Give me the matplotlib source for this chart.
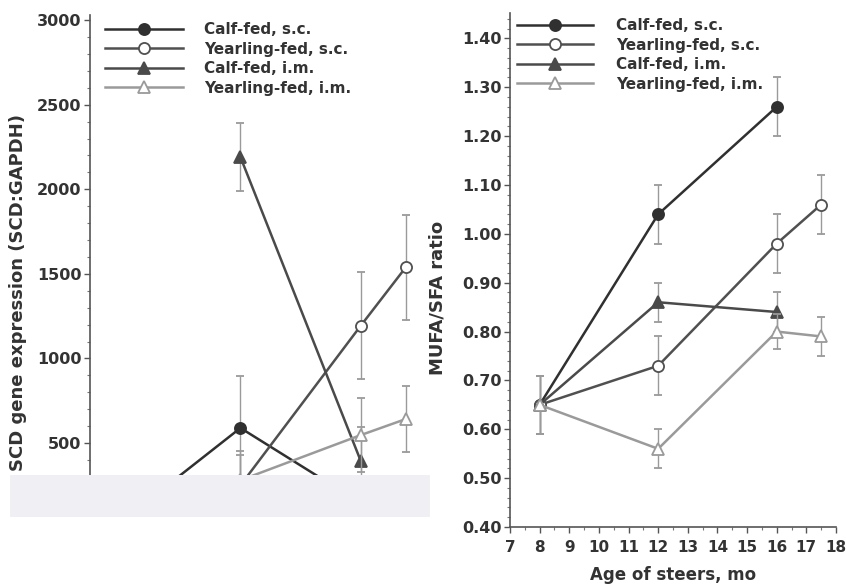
import matplotlib
matplotlib.use("Agg")
import matplotlib.pyplot as plt
from matplotlib.ticker import MultipleLocator
from matplotlib.patches import Rectangle
from matplotlib.lines import Line2D

plt.rcParams['font.family'] = ['DejaVu Sans']
plt.rcParams['font.weight'] = 'bold'
plt.rcParams['axes.labelweight'] = 'bold'

# Datos (edad en meses)
series = ['Calf-fed, s.c.', 'Yearling-fed, s.c.', 'Calf-fed, i.m.', 'Yearling-fed, i.m.']

# Panel izquierdo: expresión génica SCD
scd_x_calf_sc = [8, 12, 16]
scd_y_calf_sc = [30, 589, 145]
scd_e_calf_sc = [60, 305, 120]
scd_x_year_sc = [12, 16, 17.5]
scd_y_year_sc = [250, 1194, 1540]
scd_e_year_sc = [200, 317, 310]
scd_x_calf_im = [12, 16]
scd_y_calf_im = [2190, 393]
scd_e_calf_im = [200, 200]
scd_x_year_im = [12, 16, 17.5]
scd_y_year_im = [280, 547, 642]
scd_e_year_im = [150, 220, 195]

# Panel derecho: relación MUFA/SFA
mufa_x_calf = [8, 12, 16]
mufa_x_year = [8, 12, 16, 17.5]
mufa_y_calf_sc = [0.65, 1.04, 1.26]
mufa_e_calf_sc = [0.06, 0.06, 0.06]
mufa_y_year_sc = [0.65, 0.73, 0.98, 1.06]
mufa_e_year_sc = [0.06, 0.06, 0.06, 0.06]
mufa_y_calf_im = [0.65, 0.86, 0.84]
mufa_e_calf_im = [0.06, 0.04, 0.04]
mufa_y_year_im = [0.65, 0.56, 0.80, 0.79]
mufa_e_year_im = [0.06, 0.04, 0.035, 0.04]

line_cols = ['#303030', '#505050', '#4a4a4a', '#9a9a9a']
face_cols = ['#303030', 'white', '#4a4a4a', 'white']
marks = ['o', 'o', '^', '^']
err_col = '#9a9a9a'
txt_col = '#333333'


def draw_series(ax, xs, ys, es, i):
    ax.errorbar(xs, ys, yerr=es, color=line_cols[i], ecolor=err_col,
                elinewidth=1.0, capsize=3, capthick=1.0, lw=1.8,
                marker=marks[i], ms=8, mfc=face_cols[i], mec=line_cols[i],
                mew=1.3, zorder=3 + i)


def legend_handles():
    return [Line2D([], [], color=line_cols[i], lw=1.8, marker=marks[i], ms=8,
                   mfc=face_cols[i], mec=line_cols[i], mew=1.3)
            for i in range(4)]


def style_axis(ax):
    for s in ['top', 'right']:
        ax.spines[s].set_visible(False)
    for s in ['left', 'bottom']:
        ax.spines[s].set_color('#555555')
        ax.spines[s].set_linewidth(1.2)
    ax.tick_params(which='major', length=4, width=1, color='#555555',
                   labelsize=11.5, labelcolor=txt_col, pad=2)
    ax.tick_params(which='minor', length=2, width=0.8, color='#777777')


fig = plt.figure(figsize=(8.46, 5.86), dpi=100)

# ---- panel izquierdo ----
ax1 = fig.add_axes([90 / 846, 1 - 475 / 586, 331 / 846, 460 / 586])
draw_series(ax1, scd_x_calf_sc, scd_y_calf_sc, scd_e_calf_sc, 0)
draw_series(ax1, scd_x_year_sc, scd_y_year_sc, scd_e_year_sc, 1)
draw_series(ax1, scd_x_calf_im, scd_y_calf_im, scd_e_calf_im, 2)
draw_series(ax1, scd_x_year_im, scd_y_year_im, scd_e_year_im, 3)
ax1.set_xlim(7, 18)
ax1.set_ylim(311, 3030)
ax1.set_yticks([500, 1000, 1500, 2000, 2500, 3000])
ax1.yaxis.set_minor_locator(MultipleLocator(100))
style_axis(ax1)
ax1.spines['bottom'].set_visible(False)
ax1.set_xticks([])
ax1.set_ylabel('SCD gene expression (SCD:GAPDH)', fontsize=13, color=txt_col)
ax1.yaxis.set_label_coords(-0.19, 0.397)
leg1 = ax1.legend(legend_handles(), series, loc='upper left',
                  bbox_to_anchor=(15 / 331, 1 - 7 / 460),
                  frameon=False, fontsize=11, handlelength=5.1,
                  handletextpad=1.4, labelspacing=0.3, borderpad=0,
                  borderaxespad=0)
for t in leg1.get_texts():
    t.set_color(txt_col)

# banda de ruido del escaneo
fig.patches.append(Rectangle((10 / 846, 1 - 517 / 586), 420 / 846, 42 / 586,
                             transform=fig.transFigure, facecolor='#f0eff3',
                             edgecolor='none', zorder=0))

# ---- panel derecho ----
ax2 = fig.add_axes([510 / 846, 1 - 527 / 586, 326 / 846, 514 / 586])
draw_series(ax2, mufa_x_calf, mufa_y_calf_sc, mufa_e_calf_sc, 0)
draw_series(ax2, mufa_x_year, mufa_y_year_sc, mufa_e_year_sc, 1)
draw_series(ax2, mufa_x_calf, mufa_y_calf_im, mufa_e_calf_im, 2)
draw_series(ax2, mufa_x_year, mufa_y_year_im, mufa_e_year_im, 3)
ax2.set_xlim(7, 18)
ax2.set_ylim(0.40, 1.452)
ax2.set_xticks(range(7, 19))
ax2.set_yticks([0.4, 0.5, 0.6, 0.7, 0.8, 0.9, 1.0, 1.1, 1.2, 1.3, 1.4])
ax2.set_yticklabels(['%.2f' % v for v in ax2.get_yticks()])
ax2.xaxis.set_minor_locator(MultipleLocator(0.5))
ax2.yaxis.set_minor_locator(MultipleLocator(0.02))
style_axis(ax2)
ax2.tick_params(axis='x', pad=5, labelsize=11)
ax2.set_ylabel('MUFA/SFA ratio', fontsize=13, color=txt_col)
ax2.yaxis.set_label_coords(-0.196, 0.445)
ax2.set_xlabel('Age of steers, mo', fontsize=12, color=txt_col, labelpad=8)
leg2 = ax2.legend(legend_handles(), series, loc='upper left',
                  bbox_to_anchor=(7 / 326, 1 - 5 / 514),
                  frameon=False, fontsize=11, handlelength=5.0,
                  handletextpad=1.5, labelspacing=0.3, borderpad=0,
                  borderaxespad=0)
for t in leg2.get_texts():
    t.set_color(txt_col)

fig.savefig('out.png', dpi=100)
